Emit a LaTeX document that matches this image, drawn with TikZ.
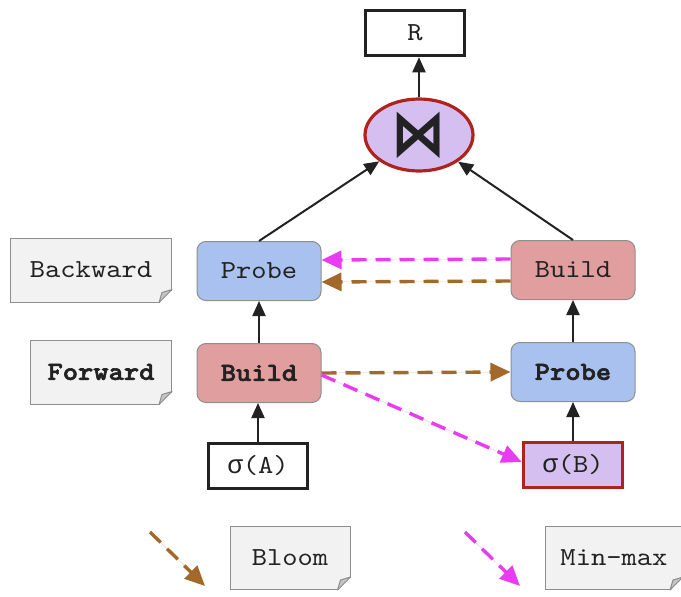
\documentclass[tikz,border=0pt]{standalone}
\usepackage{fontspec}
\setmonofont{lmmono10-regular.otf}[FakeStretch=1.12,
  BoldFont=lmmonolt10-bold.otf, BoldFeatures={FakeBold=2.2}]
\newfontfamily\greekfont{Liberation Mono}
\newfontfamily\symfont{DejaVu Sans}
\usetikzlibrary{arrows.meta,shapes.geometric}

\definecolor{probeblue}{HTML}{A9C1EE}
\definecolor{buildred}{HTML}{E09E9E}
\definecolor{lavender}{HTML}{D5BFF1}
\definecolor{darkred}{HTML}{B0221C}
\definecolor{edgegray}{HTML}{8E8E8E}
\definecolor{foldgray}{HTML}{C4C4C4}
\definecolor{bloombrown}{HTML}{A3692A}
\definecolor{minmaxpink}{HTML}{E83BF2}
\definecolor{notefill}{HTML}{F2F2F2}
\definecolor{ink}{HTML}{222222}

\newcommand{\sig}{{\greekfont σ}}

\tikzset{
  op/.style={draw=edgegray, line width=1pt, rounded corners=9pt,
    minimum width=124pt, minimum height=59pt, inner sep=0pt, text=ink},
  probebox/.style={op, fill=probeblue},
  buildbox/.style={op, fill=buildred},
  rel/.style={draw=ink, line width=3.5pt, minimum width=99pt,
    minimum height=45pt, inner sep=0pt, text=ink},
  notebox/.style={draw=edgegray, fill=notefill, line width=1pt,
    minimum height=64pt, inner sep=0pt, text=ink},
  flow/.style={draw=ink, line width=2pt,
    -{Triangle[length=15pt,width=13pt]}},
  filter/.style={line width=3.4pt, dash pattern=on 15pt off 9pt,
    -{Triangle[length=20pt,width=18pt]}},
  bloom/.style={filter, draw=bloombrown, fill=bloombrown},
  minmax/.style={filter, draw=minmaxpink, fill=minmaxpink},
}

\begin{document}
\begin{tikzpicture}[x=1pt, y=-1pt, font=\ttfamily\fontsize{26}{30}\selectfont]
\useasboundingbox (0,0) rectangle (681,597);
\clip (0,0) rectangle (681,597);

% result and join
\node[rel] (r) at (415,33) {R};
\node[ellipse, draw=darkred, fill=lavender, line width=3.2pt,
  minimum width=108pt, minimum height=72pt, inner sep=0pt, text=ink] (j) at (419,135)
  {\scalebox{1.18}[1.4]{\symfont\bfseries\fontsize{46}{46}\selectfont ⋈}};

% left side: scan A, build, probe
\node[probebox] (pl) at (259,271) {Probe};
\node[buildbox] (bl) at (259,373) {\bfseries Build};
\node[rel] (sa) at (258,466) {\sig(A)};

% right side: scan B, probe, build
\node[buildbox] (br) at (573,270) {Build};
\node[probebox] (pr) at (573,372) {\bfseries Probe};
\node[rel, draw=darkred, fill=lavender] (sb) at (573,465) {\sig(B)};

% phase notes and legend notes
\node[notebox, minimum width=161pt] (back) at (91,270) {Backward};
\node[notebox, minimum width=141pt] (fwd) at (101,372) {\bfseries Forward};
\node[notebox, minimum width=120pt, minimum height=63pt] (bl-note) at (290,558) {Bloom};
\node[notebox, minimum width=137pt, minimum height=63pt] (mm-note) at (614,558) {Min-max};

% folded corners of the notes
\foreach \n in {back,fwd,bl-note,mm-note}{
  \fill[white] ([xshift=-13pt,yshift=-1pt]\n.south east) -- ([xshift=1pt,yshift=-1pt]\n.south east)
    -- ([xshift=1pt,yshift=13pt]\n.south east) -- cycle;
  \filldraw[fill=foldgray, draw=edgegray, line width=1pt, line join=round]
    ([xshift=-13pt]\n.south east) -- ([yshift=13pt]\n.south east)
    -- ([xshift=-10pt,yshift=10pt]\n.south east) -- cycle;
}

% data flow
\draw[flow] (j) -- (j |- r.south);
\draw[flow] (pl.north) -- (j);
\draw[flow] (br.north) -- (j);
\draw[flow] (bl) -- (pl);
\draw[flow] (sa) -- (sa |- bl.south);
\draw[flow] (pr) -- (br);
\draw[flow] (sb) -- (pr);

% runtime filters
\draw[minmax] ([yshift=11pt]br.west) -- ([yshift=11pt]pl.east);
\draw[bloom] ([yshift=-11pt]br.west) -- ([yshift=-11pt]pl.east);
\draw[bloom] (bl.east) -- (pr.west);
\draw[minmax] ([yshift=-2pt]bl.east) -- ([yshift=3pt]sb.west);

% legend arrows
\coordinate (bloomA) at (150,532);
\coordinate (bloomB) at (205,586);
\coordinate (mmA) at (465,532);
\coordinate (mmB) at (520,586);
\draw[bloom] (bloomA) -- (bloomB);
\draw[minmax] (mmA) -- (mmB);
\end{tikzpicture}
\end{document}
